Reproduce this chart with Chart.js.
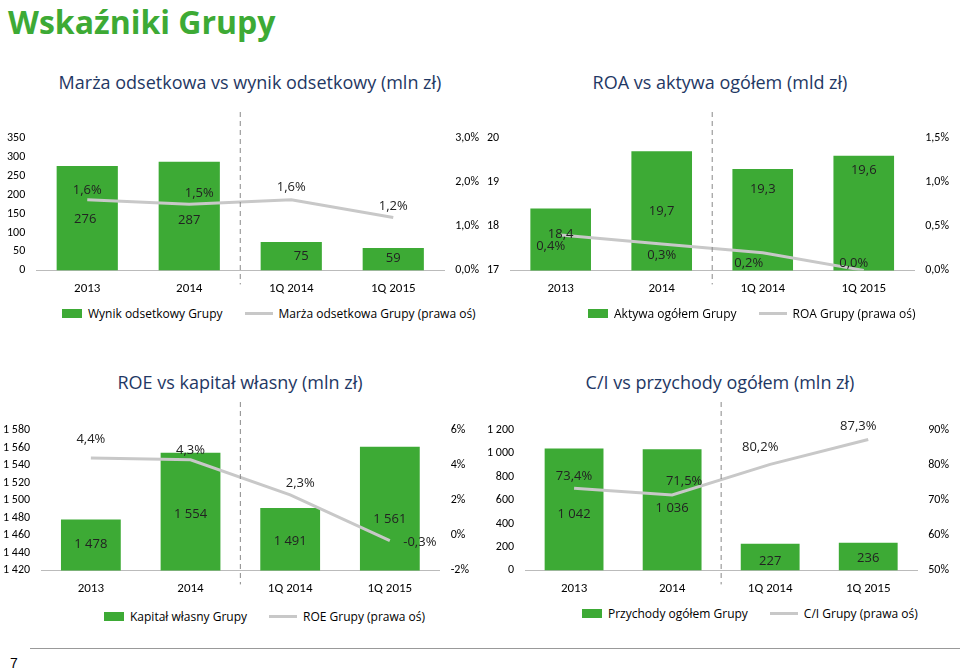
<!DOCTYPE html>
<html><head><meta charset="utf-8">
<script src="https://cdn.jsdelivr.net/npm/chart.js@4"></script>
<style>
body{margin:0;width:960px;height:672px;background:#fff;font-family:Calibri,Carlito,"Liberation Sans",sans-serif;position:relative;overflow:hidden}
h1{position:absolute;left:8px;top:0;margin:0;font:bold 32px "Open Sans",sans-serif;color:#3daa35}
.t{position:absolute;font:18px "Open Sans",sans-serif;color:#1f3864;text-align:center}
.c{position:absolute}
.lg{position:absolute;font:12px "Open Sans",sans-serif;color:#000;display:flex;align-items:center;gap:6px;white-space:nowrap}
.sq{display:inline-block;width:20px;height:9px;background:#3daa35}
.ln{display:inline-block;width:28px;height:3px;background:#c8c8c8;margin-left:16px}
#pg{position:absolute;left:10px;top:655px;font:14px sans-serif}
#rule{position:absolute;left:30px;top:648px;width:930px;border-top:1px solid #999}
</style></head><body>
<h1>Wskaźniki Grupy</h1>
<div class="t" style="left:40px;width:420px;top:70px">Marża odsetkowa vs wynik odsetkowy (mln zł)</div>
<div class="t" style="left:500px;width:440px;top:70px">ROA vs aktywa ogółem (mld zł)</div>
<div class="t" style="left:20px;width:440px;top:370px">ROE vs kapitał własny (mln zł)</div>
<div class="t" style="left:500px;width:440px;top:370px">C/I vs przychody ogółem (mln zł)</div>
<canvas class="c" id="c1" width="490" height="190" style="left:0;top:110px"></canvas>
<canvas class="c" id="c2" width="480" height="190" style="left:480px;top:110px"></canvas>
<canvas class="c" id="c3" width="480" height="200" style="left:0;top:400px"></canvas>
<canvas class="c" id="c4" width="480" height="200" style="left:480px;top:400px"></canvas>
<div class="lg" style="left:62px;top:305px"><span class="sq"></span>Wynik odsetkowy Grupy<span class="ln"></span>Marża odsetkowa Grupy (prawa oś)</div>
<div class="lg" style="left:588px;top:305px"><span class="sq"></span>Aktywa ogółem Grupy<span class="ln"></span>ROA Grupy (prawa oś)</div>
<div class="lg" style="left:104px;top:608px"><span class="sq"></span>Kapitał własny Grupy<span class="ln"></span>ROE Grupy (prawa oś)</div>
<div class="lg" style="left:582px;top:605px"><span class="sq"></span>Przychody ogółem Grupy<span class="ln"></span>C/I Grupy (prawa oś)</div>
<div id="rule"></div><div id="pg">7</div>
<script>
const categories = ['2013', '2014', '1Q 2014', '1Q 2015'];
const interestIncome = [276, 287, 75, 59];
const interestMargin = [1.6, 1.5, 1.6, 1.2];
const totalAssets = [18.4, 19.7, 19.3, 19.6];
const roa = [0.4, 0.3, 0.2, 0.0];
const equity = [1478, 1554, 1491, 1561];
const roe = [4.4, 4.3, 2.3, -0.3];
const revenue = [1042, 1036, 227, 236];
const costIncome = [73.4, 71.5, 80.2, 87.3];

const pl = (v, d) => v.toFixed(d).replace('.', ',');
const th = v => String(v).replace(/\B(?=(\d{3})+(?!\d))/g, ' ');
const green = '#3daa35', grey = '#c8c8c8';
const font = {family: 'Calibri, Carlito, "Open Sans", sans-serif', size: 12};

const labelPlugin = {
  id: 'labels',
  afterDatasetsDraw(chart, args, o) {
    const ctx = chart.ctx, a = chart.chartArea;
    ctx.save();
    // dashed divider between yearly and quarterly data
    const b1 = chart.getDatasetMeta(1).data;
    const x = (b1[1].x + b1[2].x) / 2;
    ctx.strokeStyle = '#888'; ctx.setLineDash([5, 4]); ctx.lineWidth = 1;
    ctx.beginPath(); ctx.moveTo(x, 2); ctx.lineTo(x, a.bottom + 14); ctx.stroke();
    ctx.setLineDash([]);
    ctx.font = '13px "Open Sans", sans-serif'; ctx.fillStyle = '#222';
    ctx.textAlign = 'center'; ctx.textBaseline = 'middle';
    chart.getDatasetMeta(1).data.forEach((b, i) => {
      ctx.fillText(o.barText[i], b.x + o.barDx[i], b.y + o.barDy[i]);
    });
    chart.getDatasetMeta(0).data.forEach((p, i) => {
      ctx.fillText(o.lineText[i], p.x + o.lineDx[i], p.y + o.lineDy[i]);
    });
    ctx.restore();
  }
};

function make(id, opts) {
  new Chart(document.getElementById(id), {
    data: {
      labels: categories,
      datasets: [
        {type: 'line', data: opts.line, yAxisID: 'y1', borderColor: grey, borderWidth: 3, pointRadius: 0, tension: 0, order: 0},
        {type: 'bar', data: opts.bars, yAxisID: 'y', backgroundColor: green, categoryPercentage: 0.75, barPercentage: 0.8, order: 1}
      ]
    },
    plugins: [labelPlugin],
    options: {
      responsive: false, animation: false,
      layout: {padding: opts.pad},
      plugins: {legend: {display: false}, tooltip: {enabled: false}, labels: opts.lbl},
      scales: {
        x: {grid: {display: false}, border: {color: '#bbb'}, ticks: {color: '#000', font: {size: 13, family: font.family}}},
        y: {min: opts.y[0], max: opts.y[1], grid: {display: false}, border: {display: false},
            ticks: {stepSize: opts.y[2], color: '#000', font, callback: opts.yFmt}},
        y1: {position: 'right', min: opts.r[0], max: opts.r[1], grid: {display: false}, border: {display: false},
            ticks: {stepSize: opts.r[2], color: '#000', font, callback: opts.rFmt}}
      }
    }
  });
}

make('c1', {bars: interestIncome, line: interestMargin, y: [0, 350, 50], r: [0, 3, 1],
  yFmt: v => v, rFmt: v => pl(v, 1) + '%', pad: {top: 28, left: 4, right: 8},
  lbl: {barText: interestIncome.map(String), barDy: [53, 58, 14, 10], barDx: [-2, 0, 10, 0],
        lineText: interestMargin.map(v => pl(v, 1) + '%'), lineDx: [0, 10, 0, 0], lineDy: [-9, -11, -12, -11]}});
make('c2', {bars: totalAssets, line: roa, y: [17, 20, 1], r: [0, 1.5, 0.5],
  yFmt: v => v, rFmt: v => pl(v, 1) + '%', pad: {top: 28, left: 4, right: 8},
  lbl: {barText: totalAssets.map(v => pl(v, 1)), barDy: [26, 60, 20, 15], barDx: [0, 0, 0, 0],
        lineText: roa.map(v => pl(v, 1) + '%'), lineDx: [-10, 0, -14, -10], lineDy: [11, 11, 11, -7]}});
make('c3', {bars: equity, line: roe, y: [1420, 1580, 20], r: [-2, 6, 2],
  yFmt: v => th(v), rFmt: v => v + '%', pad: {top: 30, left: 0, right: 8},
  lbl: {barText: equity.map(th), barDy: [25, 61, 33, 73], barDx: [0, 0, 0, 0],
        lineText: roe.map(v => pl(v, 1) + '%'), lineDx: [0, 0, 10, 30], lineDy: [-19, -10, -12, 2]}});
make('c4', {bars: revenue, line: costIncome, y: [0, 1200, 200], r: [50, 90, 10],
  yFmt: v => th(v), rFmt: v => v + '%', pad: {top: 30, left: 4, right: 8},
  lbl: {barText: revenue.map(th), barDy: [66, 59, 17, 16], barDx: [0, 0, 0, 0],
        lineText: costIncome.map(v => pl(v, 1) + '%'), lineDx: [0, 12, -10, -10], lineDy: [-12, -14, -17, -13]}});
</script>
</body></html>
